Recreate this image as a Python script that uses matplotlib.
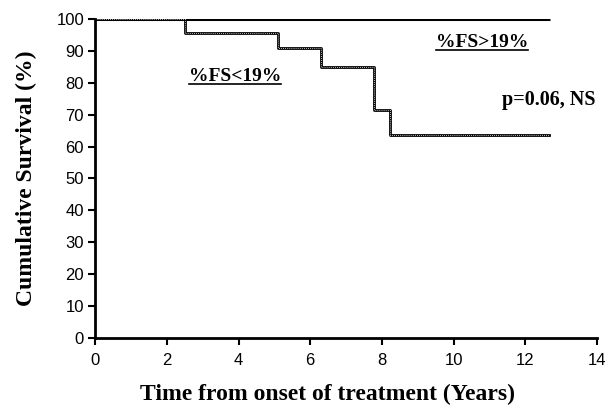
import matplotlib
matplotlib.use('Agg')
import matplotlib.pyplot as plt

# %FS>19% group: nobody died
high_t = [0, 12.7]
high_s = [100, 100]

# %FS<19% group, Kaplan-Meier steps
low_t = [0, 2.5, 5.1, 6.3, 7.78, 8.24, 12.65]
low_s = [100, 95.5, 90.9, 85.0, 71.6, 63.6, 63.6]

xticks = [0, 2, 4, 6, 8, 10, 12, 14]
yticks = [0, 10, 20, 30, 40, 50, 60, 70, 80, 90, 100]

serif = ['Liberation Serif', 'DejaVu Serif']
sans = ['Liberation Sans', 'DejaVu Sans']

fig = plt.figure(figsize=(6.06, 4.12), dpi=100)
ax = fig.add_axes([0.157, 0.18, 0.828, 0.774])

# upper curve solid
ax.step(high_t, high_s, where='post', color='black', lw=2.2, solid_capstyle='butt')
# lower curve: dark line with light dotted texture
ax.step(low_t, low_s, where='post', color='black', lw=2.0)
ax.step(low_t, low_s, where='post', color='white', lw=0.6, linestyle=(0, (1, 1.5)))

ax.set_xlim(0, 14)
ax.set_ylim(0, 100)
ax.set_xticks(xticks)
ax.set_yticks(yticks)
ax.set_xticklabels([str(v) for v in xticks], family=sans, fontsize=12)
ax.set_yticklabels([str(v) for v in yticks], family=sans, fontsize=12)
ax.tick_params(direction='out', length=5, width=1.5, pad=3)
ax.tick_params(axis='x', pad=6)

for s in ['top', 'right']:
    ax.spines[s].set_visible(False)
for s in ['left', 'bottom']:
    ax.spines[s].set_linewidth(2)

ax.set_xlabel('Time from onset of treatment (Years)', family=serif,
              fontweight='bold', fontsize=17, labelpad=10)
ax.xaxis.set_label_coords(0.463, -0.145)
ax.set_ylabel('Cumulative Survival (%)', family=serif,
              fontweight='bold', fontsize=17, labelpad=14)

# group labels (underlined)
for txt, x, y in [('%FS>19%', 10.8, 92.5), ('%FS<19%', 3.9, 82.0)]:
    t = ax.text(x, y, txt, family=serif, fontweight='bold', fontsize=14,
                ha='center', va='center')
    fig.canvas.draw()
    bb = t.get_window_extent().transformed(ax.transData.inverted())
    ax.plot([bb.x0, bb.x1], [bb.y0 + 0.3, bb.y0 + 0.3], color='black', lw=1.2)

ax.text(12.65, 74.5, 'p=0.06, NS', family=serif, fontweight='bold', fontsize=14.5,
        ha='center', va='center')

fig.savefig('out.png', dpi=100)
